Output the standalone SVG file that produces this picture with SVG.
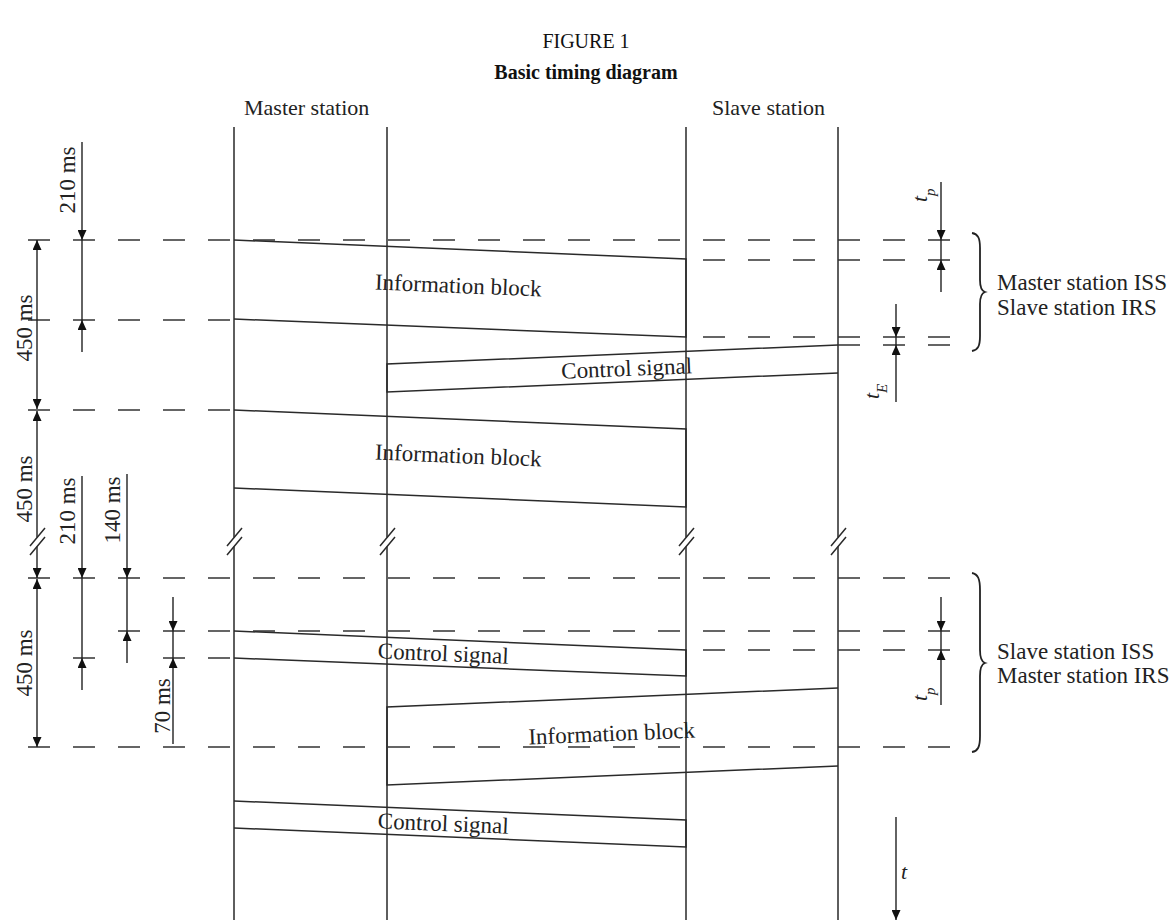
<svg xmlns="http://www.w3.org/2000/svg" width="1172" height="921" viewBox="0 0 1172 921">
<style>
.t{font-family:"Liberation Serif","Times New Roman",serif;font-size:23px;fill:#222}
.h{font-family:"Liberation Serif","Times New Roman",serif;font-size:22px;fill:#222}
.ti{font-family:"Liberation Serif","Times New Roman",serif;font-size:20px;fill:#111}
.it{font-family:"Liberation Serif","Times New Roman",serif;font-style:italic;font-size:22px;fill:#222}
.sub{font-size:15px}
.ln{stroke:#2a2a2a;stroke-width:1.5;fill:none}
.bd{stroke:#2a2a2a;stroke-width:1.5;fill:#fff}
.ds{stroke:#333;stroke-width:1.6;fill:none;stroke-dasharray:22 23}
.dm{stroke:#222;stroke-width:1.4;fill:none}
.ar{marker-end:url(#ah)}
.br{stroke:#222;stroke-width:1.8;fill:none}
</style>
<defs>
<marker id="ah" viewBox="0 0 10 9" refX="10" refY="4.5" markerWidth="10" markerHeight="9" markerUnits="userSpaceOnUse" orient="auto-start-reverse">
<path d="M0,0 L10,4.5 L0,9 z" fill="#111"/>
</marker>
</defs>

<g id="title">
<text class="ti" x="586" y="48" text-anchor="middle">FIGURE 1</text>
<text class="ti" x="586" y="79" text-anchor="middle" font-weight="bold">Basic timing diagram</text>
</g>

<g id="master-station">
<text class="h" x="244" y="115">Master station</text>
<path class="ln" d="M234,127 V537.6 M234,546.6 V920 M387,127 V537.6 M387,546.6 V920"/>
<path class="ln" d="M227,546 L242,528 M227,555 L242,537 M380,546 L395,528 M380,555 L395,537"/>
</g>
<g id="slave-station">
<text class="h" x="712" y="115">Slave station</text>
<path class="ln" d="M686,127 V537.6 M686,546.6 V920 M838,127 V537.6 M838,546.6 V920"/>
<path class="ln" d="M679,546 L694,528 M679,555 L694,537 M831,546 L846,528 M831,555 L846,537"/>
</g>

<g id="guides">
<path class="ds" d="M28,240 H952"/>
<path class="ds" d="M703,260 H952"/>
<path class="ds" d="M28,320 H232"/>
<path class="ds" d="M703,337 H952"/>
<path class="ds" d="M838,345 H952"/>
<path class="ds" d="M28,410 H232"/>
<path class="ds" d="M28,578 H952"/>
<path class="ds" d="M118,631 H952"/>
<path class="ds" d="M703,650 H952"/>
<path class="ds" d="M73,658 H95 M163,658 H185 M208,658 H230" style="stroke-dasharray:none"/>
<path class="ds" d="M28,747 H952"/>
</g>

<g id="connectors">
<g id="info-block-1">
<path class="ln" d="M234,240 L686,259 V337 L234,319"/>
<text class="t" x="458" y="293" text-anchor="middle" transform="rotate(2.4 458 293)">Information block</text>
</g>
<g id="control-signal-1">
<path class="ln" d="M838,345 L387,364 V392 L838,373"/>
<text class="t" x="627" y="376" text-anchor="middle" transform="rotate(-2.4 627 376)">Control signal</text>
</g>
<g id="info-block-2">
<path class="ln" d="M234,410 L686,429 V507 L234,488"/>
<text class="t" x="458" y="463" text-anchor="middle" transform="rotate(2.4 458 463)">Information block</text>
</g>
<g id="control-signal-2">
<path class="ln" d="M234,631 L686,650 V676 L234,658"/>
<text class="t" x="443" y="661" text-anchor="middle" transform="rotate(2.4 443 661)">Control signal</text>
</g>
<g id="info-block-3">
<path class="ln" d="M838,688 L387,707 V785 L838,766"/>
<text class="t" x="612" y="741" text-anchor="middle" transform="rotate(-2.4 612 741)">Information block</text>
</g>
<g id="control-signal-3">
<path class="ln" d="M234,801 L686,820 V847 L234,828"/>
<text class="t" x="443" y="831" text-anchor="middle" transform="rotate(2.4 443 831)">Control signal</text>
</g>
</g>

<g id="dimensions-left">
<path class="dm ar" d="M82,142 V240"/>
<path class="dm" d="M82,240 V320"/>
<path class="dm ar" d="M82,352 V320"/>
<text class="t" transform="translate(75,180) rotate(-90)" text-anchor="middle">210 ms</text>

<path class="dm" d="M37,240 V409" style="marker-start:url(#ah);marker-end:url(#ah)"/>
<text class="t" transform="translate(32,328) rotate(-90)" text-anchor="middle">450 ms</text>

<path class="dm" d="M37,411 V537.6" style="marker-start:url(#ah)"/>
<path class="dm ar" d="M37,546.6 V578"/>
<path class="ln" d="M30,546 L45,528 M30,555 L45,537"/>
<text class="t" transform="translate(32,489) rotate(-90)" text-anchor="middle">450 ms</text>

<path class="dm ar" d="M82,476 V578"/>
<path class="dm" d="M82,578 V658"/>
<path class="dm ar" d="M82,690 V658"/>
<text class="t" transform="translate(75,511) rotate(-90)" text-anchor="middle">210 ms</text>

<path class="dm ar" d="M127,474 V578"/>
<path class="dm" d="M127,578 V631"/>
<path class="dm ar" d="M127,663 V631"/>
<text class="t" transform="translate(120,510) rotate(-90)" text-anchor="middle">140 ms</text>

<path class="dm" d="M37,579 V747" style="marker-start:url(#ah);marker-end:url(#ah)"/>
<text class="t" transform="translate(32,663) rotate(-90)" text-anchor="middle">450 ms</text>

<path class="dm ar" d="M173,597 V631"/>
<path class="dm" d="M173,631 V658"/>
<path class="dm ar" d="M173,744 V658"/>
<text class="t" transform="translate(170,706) rotate(-90)" text-anchor="middle">70 ms</text>
</g>

<g id="dimensions-right">
<path class="dm ar" d="M941,182 V240"/>
<path class="dm" d="M941,240 V260"/>
<path class="dm ar" d="M941,292 V260"/>
<text class="it" transform="translate(927,202) rotate(-90)">t<tspan class="sub" baseline-shift="sub">p</tspan></text>

<path class="dm ar" d="M896,304 V337"/>
<path class="dm" d="M896,337 V345"/>
<path class="dm ar" d="M896,402 V345"/>
<text class="it" transform="translate(879,399) rotate(-90)">t<tspan class="sub" baseline-shift="sub">E</tspan></text>

<path class="dm ar" d="M941,597 V631"/>
<path class="dm" d="M941,631 V650"/>
<path class="dm ar" d="M941,705 V650"/>
<text class="it" transform="translate(927,701) rotate(-90)">t<tspan class="sub" baseline-shift="sub">p</tspan></text>

<path class="dm ar" d="M896,817 V920"/>
<text class="it" x="901" y="879">t</text>
</g>

<g id="phase-1">
<path class="br" d="M972,233 C978,234 980,238 980,248 L980,280 C980,288 982,291 985,292 C982,293 980,296 980,304 L980,336 C980,346 978,350 972,351"/>
<text class="t" x="997" y="290">Master station ISS</text>
<text class="t" x="997" y="315">Slave station IRS</text>
</g>
<g id="phase-2">
<path class="br" d="M972,573 C978,574 980,579 980,590 L980,650 C980,658 982,662 985,663 C982,664 980,668 980,676 L980,736 C980,747 978,751 972,752"/>
<text class="t" x="997" y="659">Slave station ISS</text>
<text class="t" x="997" y="683">Master station IRS</text>
</g>
</svg>
